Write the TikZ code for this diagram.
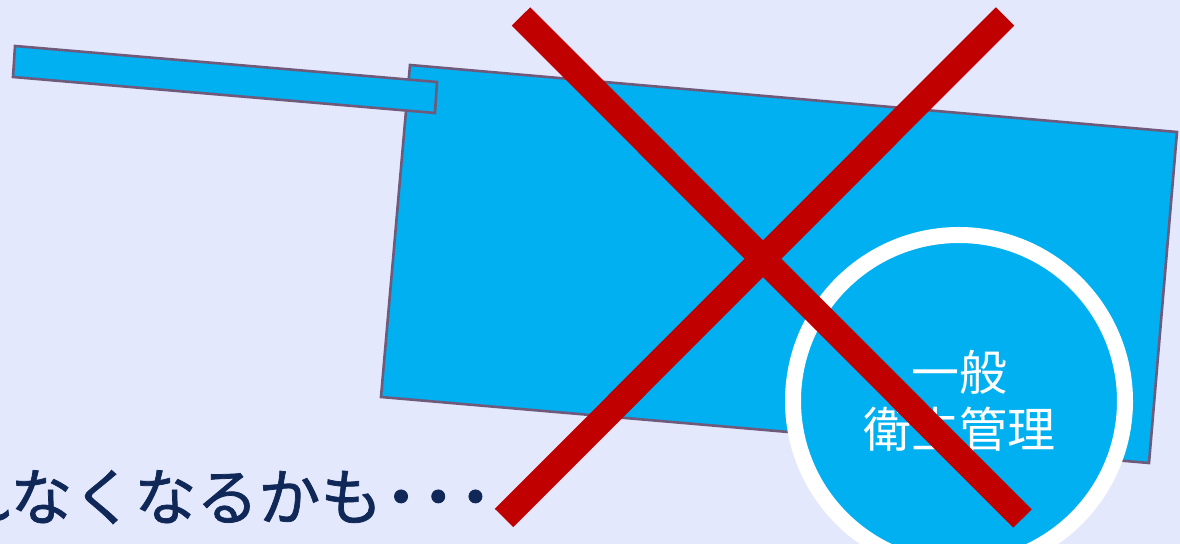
\documentclass[tikz,border=0pt]{standalone}
\usepackage{fontspec}
\usepackage{xcolor}
\usetikzlibrary{positioning}
\newfontfamily\jpfont{Noto Sans CJK JP}
\newfontfamily\jpheavy[FakeBold=1.2]{Noto Sans CJK JP}
\definecolor{Backdrop}{HTML}{E4E8FC}
\definecolor{CartBlue}{HTML}{00B0F0}
\definecolor{CartEdge}{HTML}{6F5A7C}
\definecolor{CrossRed}{HTML}{C00000}
\definecolor{Ink}{HTML}{0F2858}
\newcommand{\GapDot}{\makebox[0.6em]{・}}

\begin{document}
\begin{tikzpicture}[
    x=0.5pt,
    y=-0.5pt,
    cartpart/.style={fill=CartBlue, draw=CartEdge, line width=1.3pt, line join=miter},
    wheel/.style={circle, fill=CartBlue, draw=white, line width=8pt,
                  minimum size=166pt, inner sep=0pt, align=center,
                  text=white, font=\jpfont\fontsize{24pt}{28.5pt}\selectfont},
    crossbar/.style={CrossRed, line width=13pt, line cap=butt},
    remark/.style={anchor=base west, inner sep=0pt, text=Ink,
                   font=\jpheavy\fontsize{31pt}{36pt}\selectfont}
]

% Canvas
\useasboundingbox[fill=Backdrop] (0,0) rectangle (1180,544);
\clip (0,0) rectangle (1180,544);

% Cart body, then handle on top
\draw[cartpart] (410,65) -- (1177,132) -- (1149,463) -- (381,397) -- cycle;
\draw[cartpart] (15,46) -- (437,82) -- (435,113) -- (13,77) -- cycle;

% Wheel
\node[wheel] (wheel) at (959,401) {一般\\衛生管理};

% Caption
\node[remark] (caption) at (-52,520) {れなくなるかも\GapDot\GapDot\GapDot};

% Cross
\coordinate (xa) at (521,16.5);
\coordinate (xb) at (1022.5,518.5);
\coordinate (xc) at (1005,16.5);
\coordinate (xd) at (504,518);
\draw[crossbar] (xa) -- (xb);
\draw[crossbar] (xc) -- (xd);

\end{tikzpicture}
\end{document}
